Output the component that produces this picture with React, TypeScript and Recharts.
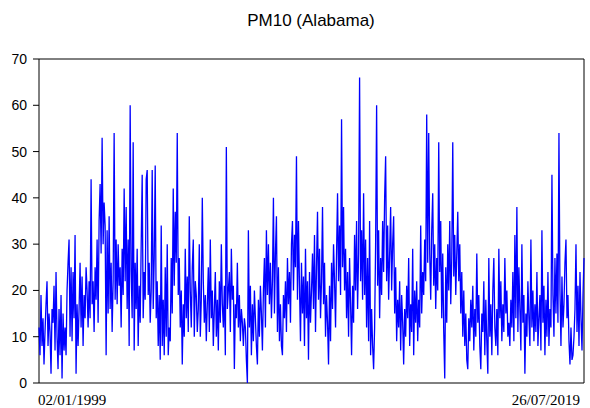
import React from "react";
import { LineChart, Line, XAxis, YAxis, ReferenceArea } from "recharts";

const chartTitle = "PM10 (Alabama)";
const startLabel = "02/01/1999";
const endLabel = "26/07/2019";
const yTicks = [0, 10, 20, 30, 40, 50, 60, 70];

const y1999 = [12, 6, 19, 8, 14, 4, 11, 17, 22, 8, 15, 11, 2, 16, 13, 21, 7, 24, 10, 3, 16, 6, 19, 1, 15, 7, 12];
const y2000 = [6, 20, 26, 31, 10, 25, 9, 24, 14, 32, 2, 17, 8, 16, 26, 12, 23, 8, 19, 14, 25, 20, 12, 22, 14, 44, 17];
const y2001 = [22, 11, 25, 18, 31, 13, 35, 43, 28, 53, 30, 39, 34, 6, 33, 15, 36, 16, 26, 11, 22, 54, 18, 31, 17, 30, 21];
const y2002 = [25, 12, 29, 19, 42, 22, 38, 16, 31, 8, 60, 24, 14, 52, 7, 26, 16, 29, 8, 21, 13, 30, 45, 14, 24, 18, 44];
const y2003 = [46, 19, 26, 13, 20, 46, 16, 27, 47, 14, 22, 8, 19, 5, 34, 8, 18, 6, 25, 10, 30, 6, 12, 9, 27, 15, 42];
const y2004 = [21, 37, 26, 54, 19, 27, 12, 20, 4, 17, 10, 29, 14, 23, 11, 36, 20, 12, 25, 31, 10, 22, 19, 11, 16, 30, 10];
const y2005 = [18, 40, 22, 13, 19, 9, 17, 25, 11, 31, 14, 20, 8, 16, 24, 10, 18, 7, 22, 13, 30, 17, 12, 21, 6, 51, 16];
const y2006 = [20, 24, 11, 29, 18, 21, 3, 17, 14, 26, 12, 19, 9, 16, 13, 8, 14, 12, 5, 0, 33, 12, 21, 6, 17, 9, 20];
const y2007 = [14, 8, 4, 18, 10, 21, 15, 7, 20, 27, 12, 33, 19, 30, 17, 26, 14, 22, 40, 15, 28, 36, 11, 25, 9, 17, 8];
const y2008 = [6, 19, 14, 22, 11, 27, 17, 24, 13, 30, 35, 20, 32, 25, 49, 18, 35, 21, 9, 26, 15, 23, 8, 29, 14, 22, 5];
const y2009 = [24, 13, 20, 28, 16, 32, 11, 25, 37, 18, 29, 14, 22, 38, 17, 26, 10, 19, 13, 4, 21, 9, 26, 16, 30, 22, 12];
const y2010 = [28, 41, 22, 34, 19, 57, 25, 38, 20, 29, 14, 24, 10, 27, 17, 6, 21, 13, 32, 20, 35, 16, 28, 66, 22, 33, 18];
const y2011 = [41, 19, 31, 12, 27, 9, 35, 6, 16, 8, 3, 12, 30, 60, 21, 33, 14, 27, 19, 35, 24, 40, 49, 22, 34, 18, 28];
const y2012 = [38, 20, 30, 36, 15, 25, 9, 18, 12, 22, 7, 19, 13, 4, 16, 10, 21, 14, 27, 8, 17, 11, 29, 6, 20, 13, 22];
const y2013 = [9, 18, 12, 34, 15, 24, 19, 31, 22, 58, 26, 54, 28, 18, 33, 41, 21, 30, 16, 27, 20, 52, 24, 35, 14, 28, 11];
const y2014 = [1, 25, 13, 30, 20, 35, 17, 27, 52, 23, 32, 19, 28, 37, 22, 30, 15, 24, 10, 20, 8, 15, 5, 3, 14, 9, 18];
const y2015 = [12, 21, 7, 16, 10, 28, 13, 19, 8, 3, 15, 11, 22, 6, 18, 9, 2, 27, 10, 17, 6, 20, 27, 12, 8, 16, 6, 29];
const y2016 = [14, 22, 9, 17, 11, 27, 15, 20, 10, 13, 8, 18, 12, 24, 9, 32, 14, 38, 11, 25, 16, 7, 30, 13, 19, 2, 15];
const y2017 = [10, 22, 14, 8, 31, 12, 20, 9, 17, 11, 24, 8, 14, 19, 7, 33, 13, 21, 6, 18, 10, 24, 8, 16, 12, 45, 19];
const y2018 = [10, 27, 15, 28, 13, 54, 20, 8, 23, 12, 17, 26, 31, 14, 19, 9, 4, 12, 5, 6, 10, 16, 30, 11, 21, 8, 24, 14, 7, 19, 27];

const pm10 = [
  ...y1999, ...y2000, ...y2001, ...y2002, ...y2003, ...y2004, ...y2005,
  ...y2006, ...y2007, ...y2008, ...y2009, ...y2010, ...y2011, ...y2012,
  ...y2013, ...y2014, ...y2015, ...y2016, ...y2017, ...y2018,
];

const data = pm10.map((v, i) => ({ i, v }));
const lastIndex = data.length - 1;

const DateTick = (props: any) => {
  const { x, y, payload } = props;
  const isFirst = payload.value === 0;
  return (
    <text
      x={isFirst ? x - 1 : x - 4}
      y={y + 14}
      textAnchor={isFirst ? "start" : "end"}
      fontFamily="'Liberation Serif', 'Times New Roman', serif"
      fontSize={15}
      fill="#000"
    >
      {isFirst ? startLabel : endLabel}
    </text>
  );
};

export default function App() {
  return (
    <div style={{ position: "absolute", left: 0, top: 0, width: 590, height: 408, background: "#fff" }}>
      <div
        style={{
          position: "absolute",
          left: 0,
          top: 11,
          width: 622,
          textAlign: "center",
          fontFamily: "'Liberation Sans', Arial, sans-serif",
          fontSize: 17,
          color: "#000",
        }}
      >
        {chartTitle}
      </div>
      <LineChart
        width={590}
        height={408}
        data={data}
        margin={{ top: 59, right: 6, left: 0, bottom: 0 }}
      >
        <XAxis
          dataKey="i"
          type="number"
          domain={[0, lastIndex]}
          ticks={[0, lastIndex]}
          axisLine={false}
          tickLine={false}
          height={25}
          tick={<DateTick />}
          interval={0}
        />
        <YAxis
          type="number"
          domain={[0, 70]}
          ticks={yTicks}
          width={39}
          axisLine={false}
          tickSize={6}
          tickMargin={6}
          tickLine={{ stroke: "#000" }}
          tick={{ fill: "#000", fontSize: 14, fontFamily: "'Liberation Sans', Arial, sans-serif" }}
          interval={0}
        />
        <ReferenceArea x1={0} x2={lastIndex} y1={0} y2={70} fill="none" stroke="#000" strokeWidth={1} fillOpacity={0} />
        <Line
          type="linear"
          dataKey="v"
          stroke="#0000FF"
          strokeWidth={1.3}
          dot={false}
          isAnimationActive={false}
        />
      </LineChart>
    </div>
  );
}
